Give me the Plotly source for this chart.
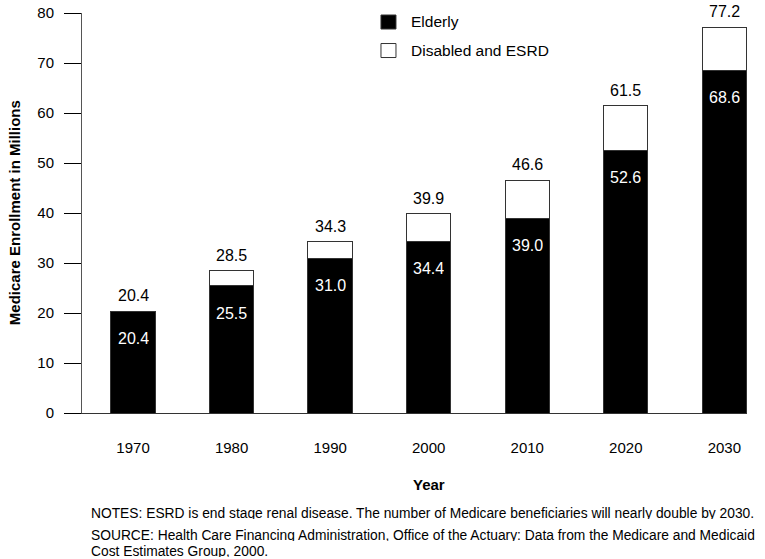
import plotly.graph_objects as go

years = ["1970", "1980", "1990", "2000", "2010", "2020", "2030"]
elderly = [20.4, 25.5, 31.0, 34.4, 39.0, 52.6, 68.6]
total = [20.4, 28.5, 34.3, 39.9, 46.6, 61.5, 77.2]
disabled = [round(t - e, 1) for t, e in zip(total, elderly)]
y_ticks = [0, 10, 20, 30, 40, 50, 60, 70, 80]
series_names = ["Elderly", "Disabled and ESRD"]
series_colors = ["black", "white"]

font = "Liberation Sans, Arial, Helvetica, sans-serif"
x = list(range(len(years)))

fig = go.Figure()
fig.add_trace(go.Bar(x=x, y=elderly, name=series_names[0], width=0.45,
                     marker=dict(color=series_colors[0], line=dict(color="#333", width=1)),
                     hoverinfo="y"))
fig.add_trace(go.Bar(x=x, y=disabled, name=series_names[1], width=0.45,
                     marker=dict(color=series_colors[1], line=dict(color="#333", width=1)),
                     hoverinfo="y"))

# value labels: elderly inside the black part, total above the bar
for i in x:
    fig.add_annotation(x=i, y=elderly[i], text=f"{elderly[i]:.1f}", showarrow=False,
                       yshift=-27, height=12, font=dict(color="white", size=16, family=font))
    fig.add_annotation(x=i, y=total[i], text=f"{total[i]:.1f}", showarrow=False,
                       yshift=16, height=12, font=dict(color="black", size=16, family=font))

# legend drawn by hand so it can sit at the very top of the plot
for k, (name, col) in enumerate(zip(series_names, series_colors)):
    ya = 0.9775 - k * 0.0713
    fig.add_shape(type="rect", xref="paper", yref="paper", xsizemode="pixel", ysizemode="pixel",
                  xanchor=0.4496, yanchor=ya, x0=0, x1=15, y0=-7, y1=7,
                  fillcolor=col, line=dict(color="#333", width=1))
    fig.add_annotation(xref="paper", yref="paper", x=0.4917, y=ya, xanchor="left", yanchor="middle",
                       text=name, showarrow=False, font=dict(size=15.5, family=font))

fig.add_annotation(x=3, y=0, yref="paper", yshift=-71, yanchor="middle", text="<b>Year</b>",
                   showarrow=False, font=dict(size=15, family=font))
fig.add_annotation(xref="paper", yref="paper", x=-0.102, xanchor="center", y=0.5, yanchor="middle",
                   textangle=-90, text="<b>Medicare Enrollment in Millions</b>", showarrow=False,
                   font=dict(size=15, family=font))

notes = [
    "NOTES: ESRD is end stage renal disease. The number of Medicare beneficiaries will nearly double by 2030.",
    "SOURCE: Health Care Financing Administration, Office of the Actuary: Data from the Medicare and Medicaid",
    "Cost Estimates Group, 2000.",
]
for line, shift in zip(notes, [-99.5, -121.5, -137.5]):
    fig.add_annotation(xref="paper", yref="paper", x=0.0105, y=0, yshift=shift, xanchor="left",
                       yanchor="middle", text=line, showarrow=False, height=12,
                       font=dict(size=13.8, family=font))

fig.update_layout(
    width=765, height=559,
    margin=dict(l=82, r=18, t=13, b=146),
    barmode="stack",
    plot_bgcolor="white", paper_bgcolor="white",
    font=dict(family=font, size=15, color="black"),
    showlegend=False,
)
fig.update_xaxes(tickvals=x, ticktext=years, range=[-0.518, 6.23], showline=True,
                 linecolor="#333", linewidth=1, ticks="", ticklabelstandoff=21,
                 showgrid=False, zeroline=False, tickfont=dict(size=15), automargin=False)
fig.update_yaxes(range=[0, 80], tickvals=y_ticks, showline=True, linecolor="#555", linewidth=1,
                 ticks="outside", ticklen=17, tickcolor="black", ticklabelstandoff=7,
                 ticklabeloverflow="allow", showgrid=False, zeroline=False,
                 tickfont=dict(size=15), automargin=False)

# drop the default 8px body margin so the figure fills the window exactly
fig.write_html("out.html", config={"displayModeBar": False},
               post_script="document.body.style.margin='0';")
